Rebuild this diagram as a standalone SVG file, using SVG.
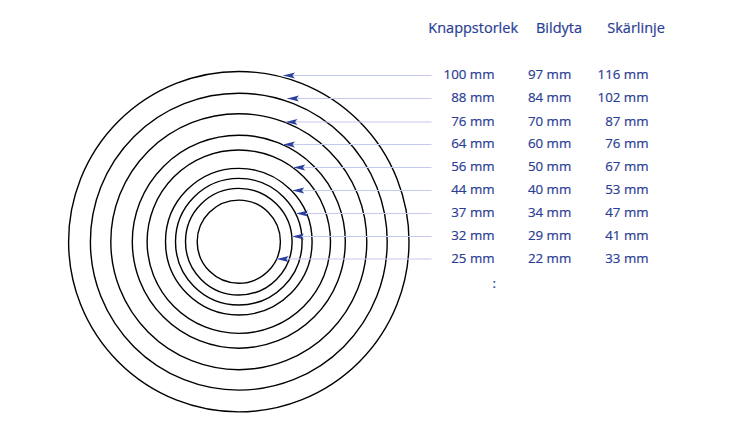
<svg xmlns="http://www.w3.org/2000/svg" width="732" height="439" viewBox="0 0 732 439">
<style>
.ring{fill:none;stroke:#000;stroke-width:1.4}
.lead{stroke:#c6c9ee;stroke-width:1.2;fill:none}
.hd{font-family:"Open Sans","Liberation Sans",sans-serif;font-size:14.5px;fill:#2a3d94;stroke:#2a3d94;stroke-width:0.2}
.tx{font-family:"Open Sans","Liberation Sans",sans-serif;font-size:13.3px;fill:#2a3d94;stroke:#2a3d94;stroke-width:0.2;text-anchor:end}
</style>
<defs>
<marker id="ah" markerUnits="userSpaceOnUse" markerWidth="14" markerHeight="8" viewBox="0 -4 13 8" refX="12" refY="0" orient="auto">
<path d="M0,-3.1 L12,0 L0,3.1 L2.5,0 z" fill="#2a3f9e"/>
</marker>
</defs>
<rect width="732" height="439" fill="#fff"/>
<g id="rings">
<circle class="ring" cx="238.8" cy="241.7" r="170.2"/>
<circle class="ring" cx="238.8" cy="241.7" r="148.4"/>
<circle class="ring" cx="238.8" cy="241.7" r="128"/>
<circle class="ring" cx="238.8" cy="241.7" r="106.5"/>
<circle class="ring" cx="238.8" cy="241.7" r="91.7"/>
<circle class="ring" cx="238.8" cy="241.7" r="73.3"/>
<circle class="ring" cx="238.8" cy="241.7" r="63.3"/>
<circle class="ring" cx="238.8" cy="241.7" r="53.3"/>
<circle class="ring" cx="238.8" cy="241.7" r="41.6"/>
</g>
<g id="connectors">
<line class="lead" x1="431.5" y1="75.5" x2="283" y2="75.5" marker-end="url(#ah)"/>
<line class="lead" x1="431.5" y1="98.5" x2="287" y2="98.5" marker-end="url(#ah)"/>
<line class="lead" x1="431.5" y1="122" x2="285.5" y2="122" marker-end="url(#ah)"/>
<line class="lead" x1="431.5" y1="144.5" x2="283" y2="144.5" marker-end="url(#ah)"/>
<line class="lead" x1="431.5" y1="167.5" x2="293.3" y2="167.5" marker-end="url(#ah)"/>
<line class="lead" x1="431.5" y1="190.5" x2="292.3" y2="190.5" marker-end="url(#ah)"/>
<line class="lead" x1="431.5" y1="213.5" x2="296" y2="213.5" marker-end="url(#ah)"/>
<line class="lead" x1="431.5" y1="236.5" x2="292" y2="236.5" marker-end="url(#ah)"/>
<line class="lead" x1="431.5" y1="259" x2="276.7" y2="259" marker-end="url(#ah)"/>
</g>
<g id="headers">
<text class="hd" x="428.3" y="32.7">Knappstorlek</text>
<text class="hd" x="536" y="32.7">Bildyta</text>
<text class="hd" x="607.3" y="32.7">Skärlinje</text>
</g>
<g id="col-knappstorlek">
<text class="tx" x="494.5" y="79.3">100 mm</text>
<text class="tx" x="494.5" y="102.3">88 mm</text>
<text class="tx" x="494.5" y="125.8">76 mm</text>
<text class="tx" x="494.5" y="148.3">64 mm</text>
<text class="tx" x="494.5" y="171.3">56 mm</text>
<text class="tx" x="494.5" y="194.3">44 mm</text>
<text class="tx" x="494.5" y="217.3">37 mm</text>
<text class="tx" x="494.5" y="240.3">32 mm</text>
<text class="tx" x="494.5" y="262.8">25 mm</text>
<text class="tx" x="496" y="287.5">:</text>
</g>
<g id="col-bildyta">
<text class="tx" x="571.2" y="79.3">97 mm</text>
<text class="tx" x="571.2" y="102.3">84 mm</text>
<text class="tx" x="571.2" y="125.8">70 mm</text>
<text class="tx" x="571.2" y="148.3">60 mm</text>
<text class="tx" x="571.2" y="171.3">50 mm</text>
<text class="tx" x="571.2" y="194.3">40 mm</text>
<text class="tx" x="571.2" y="217.3">34 mm</text>
<text class="tx" x="571.2" y="240.3">29 mm</text>
<text class="tx" x="571.2" y="262.8">22 mm</text>
</g>
<g id="col-skarlinje">
<text class="tx" x="648.5" y="79.3">116 mm</text>
<text class="tx" x="648.5" y="102.3">102 mm</text>
<text class="tx" x="648.5" y="125.8">87 mm</text>
<text class="tx" x="648.5" y="148.3">76 mm</text>
<text class="tx" x="648.5" y="171.3">67 mm</text>
<text class="tx" x="648.5" y="194.3">53 mm</text>
<text class="tx" x="648.5" y="217.3">47 mm</text>
<text class="tx" x="648.5" y="240.3">41 mm</text>
<text class="tx" x="648.5" y="262.8">33 mm</text>
</g>
</svg>
